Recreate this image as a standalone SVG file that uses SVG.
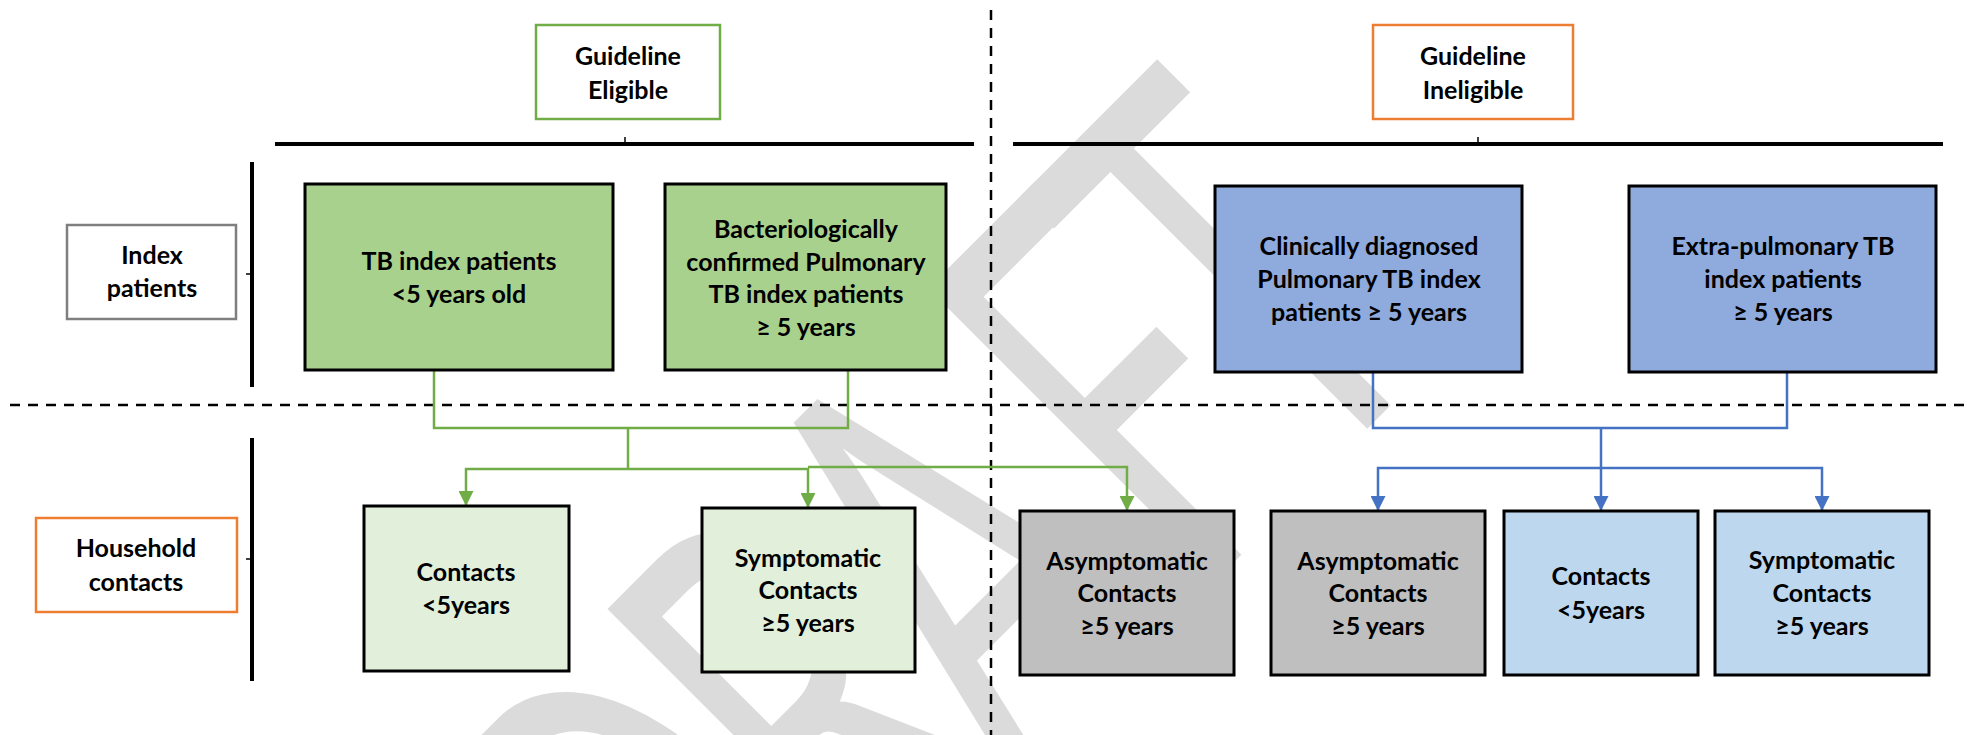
<svg xmlns="http://www.w3.org/2000/svg" width="1967" height="735" viewBox="0 0 1967 735">
  <style>
    .t { font-family: Lato, "Liberation Sans", sans-serif; font-weight: bold; font-size: 25px; fill: #000; text-anchor: middle; }
    .wm text { font-family: Lato, "Liberation Sans", sans-serif; font-size: 440px; fill: #DBDBDB; text-anchor: middle; }
    .box { stroke: #000; stroke-width: 3; }
    .lbl { fill: #fff; stroke-width: 2.5; }
    .gl { fill: none; stroke: #70AD47; stroke-width: 2.5; }
    .bl { fill: none; stroke: #4472C4; stroke-width: 2.5; }
    .bar { stroke: #000; stroke-width: 4; fill: none; }
    .tick { stroke: #000; stroke-width: 1.5; }
    .dash { stroke: #000; stroke-width: 2.5; stroke-dasharray: 10 8; fill: none; }
  </style>
  <defs>
    <marker id="ag" viewBox="0 0 10 10" refX="10" refY="5" markerWidth="15" markerHeight="15" markerUnits="userSpaceOnUse" orient="auto">
      <path d="M0,0 L10,5 L0,10 z" fill="#70AD47"/>
    </marker>
    <marker id="ab" viewBox="0 0 10 10" refX="10" refY="5" markerWidth="15" markerHeight="15" markerUnits="userSpaceOnUse" orient="auto">
      <path d="M0,0 L10,5 L0,10 z" fill="#4472C4"/>
    </marker>
  </defs>
  <rect x="0" y="0" width="1967" height="735" fill="#fff"/>

  <g id="watermark" class="wm" transform="rotate(-45)">
    <text transform="translate(-149,1270) scale(0.78,1.3)">D</text>
    <text transform="translate(75,1270) scale(0.78,1.3)">R</text>
    <text transform="translate(279,1270) scale(0.78,1.3)">A</text>
    <text transform="translate(518,1270) scale(0.78,1.3)">F</text>
    <text transform="translate(680,1270) scale(0.78,1.3)">T</text>
  </g>

  <g id="frame">
    <line class="dash" x1="10" y1="405" x2="1967" y2="405"/>
    <line class="dash" x1="991" y1="10" x2="991" y2="735"/>
    <line class="bar" x1="275" y1="144" x2="974" y2="144"/>
    <line class="tick" x1="625" y1="137" x2="625" y2="144"/>
    <line class="bar" x1="1013" y1="144" x2="1943" y2="144"/>
    <line class="tick" x1="1478" y1="137" x2="1478" y2="144"/>
    <line class="bar" x1="252" y1="162" x2="252" y2="387"/>
    <line class="tick" x1="246" y1="274" x2="252" y2="274"/>
    <line class="bar" x1="252" y1="438" x2="252" y2="681"/>
    <line class="tick" x1="246" y1="559" x2="252" y2="559"/>
  </g>

  <g id="connectors">
    <path class="gl" d="M434 370 V428 H848 V370"/>
    <path class="gl" d="M628 428 V469"/>
    <path class="gl" d="M628 469 H466 V506" marker-end="url(#ag)"/>
    <path class="gl" d="M628 469 H808 V508" marker-end="url(#ag)"/>
    <path class="gl" d="M808 467 H1127 V511" marker-end="url(#ag)"/>
    <path class="bl" d="M1373 372 V428 H1787 V372"/>
    <path class="bl" d="M1601 428 V468"/>
    <path class="bl" d="M1601 468 H1378 V511" marker-end="url(#ab)"/>
    <path class="bl" d="M1601 468 V511" marker-end="url(#ab)"/>
    <path class="bl" d="M1601 468 H1822 V511" marker-end="url(#ab)"/>
  </g>

  <g id="label-eligible">
    <rect class="lbl" x="536" y="25" width="184" height="94" stroke="#70AD47"/>
    <text class="t" x="628" y="65">Guideline</text>
    <text class="t" x="628" y="99">Eligible</text>
  </g>
  <g id="label-ineligible">
    <rect class="lbl" x="1373" y="25" width="200" height="94" stroke="#ED7D31"/>
    <text class="t" x="1473" y="65">Guideline</text>
    <text class="t" x="1473" y="99">Ineligible</text>
  </g>
  <g id="label-index">
    <rect class="lbl" x="67" y="225" width="169" height="94" stroke="#7F7F7F"/>
    <text class="t" x="152" y="264">Index</text>
    <text class="t" x="152" y="297">patients</text>
  </g>
  <g id="label-household">
    <rect class="lbl" x="36" y="518" width="201" height="94" stroke="#ED7D31"/>
    <text class="t" x="136" y="557">Household</text>
    <text class="t" x="136" y="591">contacts</text>
  </g>

  <g id="node-tb-under5">
    <rect class="box" x="305" y="184" width="308" height="186" fill="#A9D18E"/>
    <text class="t" x="459" y="270">TB index patients</text>
    <text class="t" x="459" y="303">&lt;5 years old</text>
  </g>
  <g id="node-bact-confirmed">
    <rect class="box" x="665" y="184" width="281" height="186" fill="#A9D18E"/>
    <text class="t" x="806" y="238">Bacteriologically</text>
    <text class="t" x="806" y="271">confirmed Pulmonary</text>
    <text class="t" x="806" y="303">TB index patients</text>
    <text class="t" x="806" y="336">≥ 5 years</text>
  </g>
  <g id="node-clinically">
    <rect class="box" x="1215" y="186" width="307" height="186" fill="#8FAADC"/>
    <text class="t" x="1369" y="255">Clinically diagnosed</text>
    <text class="t" x="1369" y="288">Pulmonary TB index</text>
    <text class="t" x="1369" y="321">patients ≥ 5 years</text>
  </g>
  <g id="node-extrapulmonary">
    <rect class="box" x="1629" y="186" width="307" height="186" fill="#8FAADC"/>
    <text class="t" x="1783" y="255">Extra-pulmonary TB</text>
    <text class="t" x="1783" y="288">index patients</text>
    <text class="t" x="1783" y="321">≥ 5 years</text>
  </g>

  <g id="node-contacts-under5-green">
    <rect class="box" x="364" y="506" width="205" height="165" fill="#E2EFDA"/>
    <text class="t" x="466" y="581">Contacts</text>
    <text class="t" x="466" y="614">&lt;5years</text>
  </g>
  <g id="node-symptomatic-green">
    <rect class="box" x="702" y="508" width="213" height="164" fill="#E2EFDA"/>
    <text class="t" x="808" y="567">Symptomatic</text>
    <text class="t" x="808" y="599">Contacts</text>
    <text class="t" x="808" y="632">≥5 years</text>
  </g>
  <g id="node-asymptomatic-eligible">
    <rect class="box" x="1020" y="511" width="214" height="164" fill="#BFBFBF"/>
    <text class="t" x="1127" y="570">Asymptomatic</text>
    <text class="t" x="1127" y="602">Contacts</text>
    <text class="t" x="1127" y="635">≥5 years</text>
  </g>
  <g id="node-asymptomatic-ineligible">
    <rect class="box" x="1271" y="511" width="214" height="164" fill="#BFBFBF"/>
    <text class="t" x="1378" y="570">Asymptomatic</text>
    <text class="t" x="1378" y="602">Contacts</text>
    <text class="t" x="1378" y="635">≥5 years</text>
  </g>
  <g id="node-contacts-under5-blue">
    <rect class="box" x="1504" y="511" width="194" height="164" fill="#BDD7EE"/>
    <text class="t" x="1601" y="585">Contacts</text>
    <text class="t" x="1601" y="619">&lt;5years</text>
  </g>
  <g id="node-symptomatic-blue">
    <rect class="box" x="1715" y="511" width="214" height="164" fill="#BDD7EE"/>
    <text class="t" x="1822" y="569">Symptomatic</text>
    <text class="t" x="1822" y="602">Contacts</text>
    <text class="t" x="1822" y="635">≥5 years</text>
  </g>
</svg>
